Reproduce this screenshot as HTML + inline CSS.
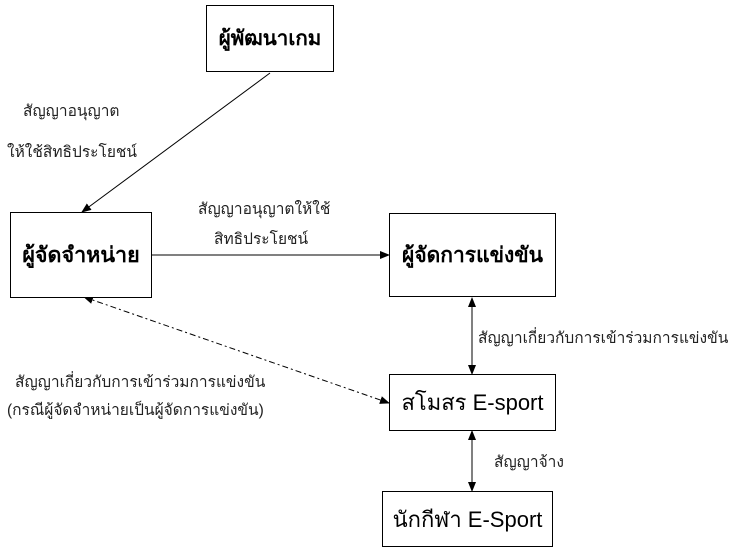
<!DOCTYPE html>
<html><head><meta charset="utf-8"><style>
body{margin:0;width:729px;height:554px;background:#fff;position:relative;overflow:hidden;font-family:"Liberation Sans","Noto Sans CJK SC","WenQuanYi Zen Hei",sans-serif;color:#000}
.b{position:absolute;border:1.5px solid #000;box-sizing:border-box;display:flex;align-items:center;justify-content:center;font-size:22px;background:#fff}
.bold{font-weight:bold}
.t{position:absolute;font-size:15.5px;white-space:nowrap;line-height:18px;color:#222}
svg{position:absolute;left:0;top:0}
</style></head><body>
<svg width="729" height="554">
<defs><marker id="a" markerWidth="10" markerHeight="8" refX="9" refY="4" orient="auto-start-reverse" markerUnits="userSpaceOnUse"><path d="M0,0L10,4L0,8z" fill="#000"/></marker></defs>
<g stroke="#000" stroke-width="1" fill="none">
<line x1="270" y1="73" x2="82" y2="212" marker-end="url(#a)"/>
<line x1="152" y1="255" x2="389" y2="255" marker-end="url(#a)"/>
<line x1="472" y1="298" x2="472" y2="374" marker-start="url(#a)" marker-end="url(#a)"/>
<line x1="472" y1="431" x2="472" y2="491" marker-start="url(#a)" marker-end="url(#a)"/>
<line x1="84" y1="297" x2="389" y2="403" stroke-dasharray="6,3,2,3" marker-start="url(#a)" marker-end="url(#a)"/>
</g></svg>
<div class="b bold" style="left:206px;top:5px;width:128px;height:67px;font-size:20.5px">ผู้พัฒนาเกม</div>
<div class="b bold" style="left:10px;top:212px;width:142px;height:86px;font-size:21.5px">ผู้จัดจำหน่าย</div>
<div class="b bold" style="left:389px;top:213px;width:167px;height:84px;font-size:21px">ผู้จัดการแข่งขัน</div>
<div class="b" style="left:389px;top:374px;width:167px;height:57px">สโมสร E-sport</div>
<div class="b" style="left:382px;top:491px;width:171px;height:56px">นักกีฬา E-Sport</div>
<div class="t" style="left:23px;top:103px">สัญญาอนุญาต</div>
<div class="t" style="left:7px;top:144px">ให้ใช้สิทธิประโยชน์</div>
<div class="t" style="left:198px;top:201px">สัญญาอนุญาตให้ใช้</div>
<div class="t" style="left:214px;top:231px">สิทธิประโยชน์</div>
<div class="t" style="left:478px;top:330px">สัญญาเกี่ยวกับการเข้าร่วมการแข่งขัน</div>
<div class="t" style="left:15px;top:374px">สัญญาเกี่ยวกับการเข้าร่วมการแข่งขัน</div>
<div class="t" style="left:7px;top:402px">(กรณีผู้จัดจำหน่ายเป็นผู้จัดการแข่งขัน)</div>
<div class="t" style="left:494px;top:454px">สัญญาจ้าง</div>
</body></html>
